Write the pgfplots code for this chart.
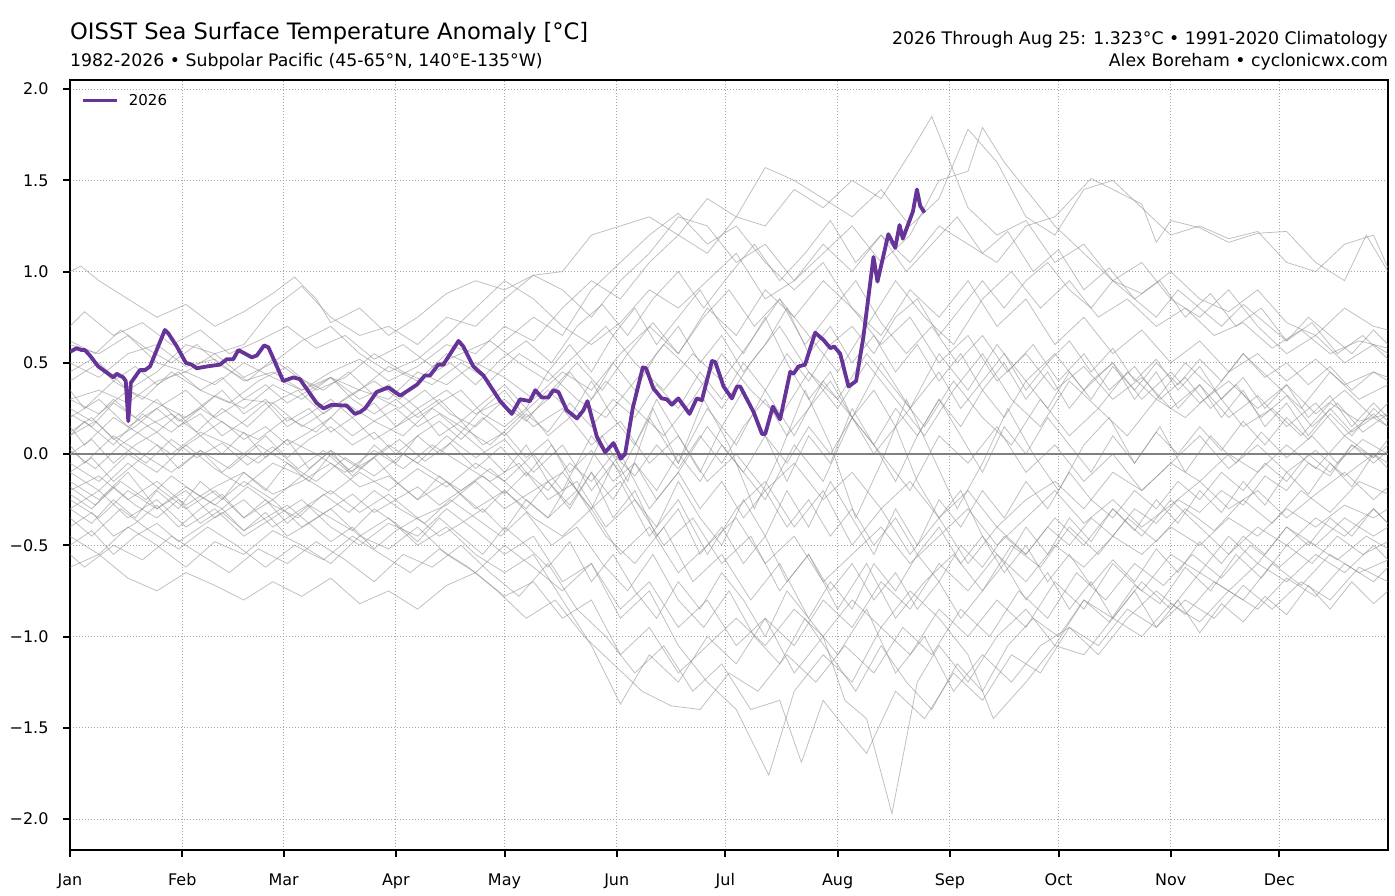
\documentclass[border=0pt]{standalone}
\usepackage{fontspec}
\setmainfont{DejaVu Sans}
\usepackage{pgfplots}
\pgfplotsset{compat=1.18}
\definecolor{purp}{RGB}{102,51,153}
\pgfplotsset{gry/.style={draw=black!45, line width=0.8pt, opacity=0.55, forget plot}}
\begin{document}
\begin{tikzpicture}
\begin{axis}[
  at={(0pt,0pt)}, anchor=south west,
  scale only axis, width=1318pt, height=770pt,
  xmin=0, xmax=364, ymin=-2.17, ymax=2.05,
  xtick={0,31,59,90,120,151,181,212,243,273,304,334},
  xticklabels={Jan,Feb,Mar,Apr,May,Jun,Jul,Aug,Sep,Oct,Nov,Dec},
  ytick={-2,-1.5,-1,-0.5,0,0.5,1,1.5,2},
  yticklabels={−2.0,−1.5,−1.0,−0.5,0.0,0.5,1.0,1.5,2.0},
  tick label style={font=\fontsize{16}{19}\selectfont},
  xticklabel style={yshift=-13pt},
  yticklabel style={xshift=-11pt},
  xtick pos=left, ytick pos=left,
  tick align=outside, major tick length=7pt,
  major tick style={black, line width=2pt},
  axis line style={black, line width=2.8pt},
  grid=major,
  major grid style={black!35, line width=0.8pt, dash pattern=on 1pt off 2pt},
  legend style={at={(0.006,0.987)}, anchor=north west, draw=none, fill=none,
    font=\fontsize{15}{18}\selectfont},
  legend image code/.code={\draw[#1] (0pt,0pt) -- (34pt,0pt);},
]
% ---- historical years (grey) ----
\addplot[gry] coordinates {(0,0.30)(8,0.35)(16,0.28)(24,0.40)(32,0.45)(40,0.38)(48,0.50)(56,0.42)(64,0.35)(72,0.45)(80,0.52)(88,0.40)(96,0.48)(104,0.60)(112,0.55)(120,0.70)(128,0.62)(136,0.80)(144,0.95)(152,0.85)(160,1.05)(168,1.20)(176,1.10)(184,1.30)(192,1.25)(200,1.45)(208,1.35)(216,1.50)(224,1.40)(232,1.65)(238,1.85)(244,1.55)(248,1.35)(256,1.20)(264,1.28)(272,1.05)(280,1.15)(288,0.95)(296,0.88)(304,1.00)(312,0.85)(320,0.78)(328,0.90)(336,0.72)(344,0.65)(352,0.80)(360,0.70)(364,0.68)};
\addplot[gry] coordinates {(0,1.00)(3,1.03)(8,0.95)(16,0.85)(24,0.75)(32,0.82)(40,0.70)(48,0.78)(56,0.88)(62,0.97)(68,0.85)(72,0.72)(80,0.80)(88,0.65)(96,0.75)(104,0.88)(112,0.95)(120,0.90)(128,0.98)(136,1.00)(144,1.20)(152,1.25)(160,1.30)(168,1.20)(176,1.40)(184,1.30)(192,1.57)(200,1.50)(208,1.40)(216,1.30)(224,1.45)(232,1.25)(240,1.40)(248,1.78)(256,1.60)(264,1.30)(272,1.20)(280,1.45)(288,1.50)(296,1.35)(304,1.20)(312,1.25)(320,1.18)(328,1.22)(336,1.05)(344,1.00)(352,1.15)(360,1.20)(364,1.02)};
\addplot[gry] coordinates {(0,0.60)(8,0.55)(16,0.65)(24,0.50)(32,0.45)(40,0.55)(48,0.60)(56,0.80)(64,0.92)(72,0.75)(80,0.65)(88,0.70)(96,0.60)(104,0.75)(112,0.70)(120,0.85)(128,0.98)(136,0.90)(144,0.75)(152,0.95)(160,1.10)(168,1.30)(176,1.25)(184,1.05)(192,1.15)(200,0.95)(208,1.10)(216,1.25)(224,1.05)(232,1.20)(240,1.50)(248,1.55)(252,1.79)(258,1.60)(264,1.45)(272,1.25)(280,1.10)(288,0.95)(296,1.05)(304,0.85)(312,0.75)(320,0.90)(328,0.70)(336,0.55)(344,0.65)(352,0.50)(360,0.60)(364,0.55)};
\addplot[gry] coordinates {(0,0.40)(8,0.50)(16,0.35)(24,0.45)(32,0.60)(40,0.55)(48,0.42)(56,0.50)(64,0.62)(72,0.70)(80,0.55)(88,0.45)(96,0.52)(104,0.65)(112,0.80)(120,0.95)(128,0.85)(136,0.70)(144,0.60)(152,0.72)(160,0.90)(168,0.80)(176,0.95)(184,1.10)(192,0.85)(200,0.95)(208,1.15)(216,1.00)(224,1.20)(232,1.05)(240,1.25)(248,1.15)(256,1.05)(264,1.25)(272,1.30)(282,1.51)(288,1.45)(296,1.37)(300,1.16)(304,1.28)(312,1.24)(320,1.16)(328,1.21)(336,1.22)(344,1.05)(352,0.95)(358,1.20)(364,1.00)};
\addplot[gry] coordinates {(0,0.20)(8,0.30)(16,0.15)(24,0.25)(32,0.35)(40,0.20)(48,0.30)(56,0.28)(64,0.15)(72,0.25)(80,0.35)(88,0.30)(96,0.45)(104,0.38)(112,0.50)(120,0.42)(128,0.30)(136,0.45)(144,0.35)(152,0.55)(160,0.70)(168,0.55)(176,0.80)(184,0.65)(192,0.90)(200,0.75)(208,0.95)(216,0.80)(224,0.65)(232,0.90)(240,0.75)(248,0.95)(256,0.70)(264,0.85)(272,0.60)(280,0.75)(288,0.55)(296,0.68)(304,0.50)(312,0.62)(320,0.45)(328,0.55)(336,0.40)(344,0.52)(352,0.38)(360,0.45)(364,0.42)};
\addplot[gry] coordinates {(0,0.10)(4,0.18)(12,0.05)(20,0.22)(28,0.12)(36,0.25)(44,0.15)(52,0.08)(60,0.20)(68,0.12)(76,0.28)(84,0.18)(92,0.10)(100,0.25)(108,0.15)(116,0.05)(124,0.20)(132,0.35)(140,0.20)(148,0.40)(156,0.25)(164,0.10)(172,0.30)(180,0.55)(188,0.35)(196,0.20)(204,0.45)(212,0.25)(220,0.50)(228,0.30)(236,0.10)(244,0.35)(252,0.55)(260,0.30)(268,0.15)(276,0.40)(284,0.25)(292,0.10)(300,0.30)(308,0.20)(316,0.35)(324,0.15)(332,0.25)(340,0.10)(348,0.28)(356,0.18)(364,0.22)};
\addplot[gry] coordinates {(0,-0.20)(8,-0.12)(16,-0.25)(24,-0.15)(32,-0.28)(40,-0.18)(48,-0.10)(56,-0.22)(64,-0.15)(72,-0.05)(80,-0.18)(88,-0.12)(96,-0.25)(104,-0.15)(112,-0.30)(120,-0.20)(128,-0.35)(136,-0.45)(144,-0.30)(152,-0.55)(160,-0.40)(168,-0.65)(176,-0.50)(184,-0.35)(192,-0.60)(200,-0.45)(208,-0.70)(216,-0.55)(224,-0.40)(232,-0.60)(240,-0.45)(248,-0.30)(256,-0.50)(264,-0.35)(272,-0.20)(280,-0.38)(288,-0.25)(296,-0.40)(304,-0.28)(312,-0.15)(320,-0.30)(328,-0.20)(336,-0.35)(344,-0.22)(352,-0.10)(360,-0.25)(364,-0.18)};
\addplot[gry] coordinates {(0,-0.45)(8,-0.55)(16,-0.40)(24,-0.50)(32,-0.62)(40,-0.48)(48,-0.55)(56,-0.42)(64,-0.50)(72,-0.60)(80,-0.45)(88,-0.52)(96,-0.40)(104,-0.55)(112,-0.65)(120,-0.50)(128,-0.62)(136,-0.75)(144,-0.60)(152,-0.85)(160,-0.70)(168,-0.95)(176,-0.80)(184,-1.05)(192,-0.90)(200,-1.20)(208,-1.00)(214,-1.35)(220,-1.45)(227,-1.97)(234,-1.25)(240,-1.05)(248,-1.25)(256,-1.00)(264,-0.85)(272,-1.05)(280,-0.80)(288,-0.90)(296,-0.70)(304,-0.85)(312,-0.65)(320,-0.75)(328,-0.60)(336,-0.70)(344,-0.55)(352,-0.65)(360,-0.50)(364,-0.58)};
\addplot[gry] coordinates {(0,-0.30)(8,-0.20)(16,-0.35)(24,-0.25)(32,-0.40)(40,-0.30)(48,-0.45)(56,-0.35)(64,-0.25)(72,-0.40)(80,-0.50)(88,-0.38)(96,-0.45)(104,-0.30)(112,-0.42)(120,-0.55)(128,-0.45)(136,-0.70)(144,-0.60)(152,-0.90)(160,-0.75)(168,-1.05)(176,-1.25)(184,-1.40)(193,-1.76)(200,-1.30)(208,-1.10)(216,-1.25)(224,-0.95)(232,-1.10)(240,-0.85)(248,-1.00)(256,-0.80)(264,-0.95)(272,-0.70)(280,-0.85)(288,-0.60)(296,-0.75)(304,-0.55)(312,-0.65)(320,-0.45)(328,-0.60)(336,-0.40)(344,-0.50)(352,-0.35)(360,-0.45)(364,-0.40)};
\addplot[gry] coordinates {(0,-0.55)(4,-0.62)(12,-0.50)(20,-0.58)(28,-0.45)(36,-0.55)(44,-0.65)(52,-0.52)(60,-0.60)(68,-0.48)(76,-0.58)(84,-0.70)(92,-0.55)(100,-0.62)(108,-0.50)(116,-0.65)(124,-0.78)(132,-0.60)(140,-0.85)(148,-1.00)(156,-1.20)(164,-1.05)(172,-1.30)(180,-1.15)(188,-1.40)(196,-1.35)(202,-1.69)(208,-1.35)(214,-1.50)(220,-1.64)(228,-1.30)(236,-1.45)(244,-1.20)(252,-1.35)(260,-1.10)(268,-1.20)(276,-0.95)(284,-1.05)(292,-0.85)(300,-0.95)(308,-0.80)(316,-0.90)(324,-0.72)(332,-0.85)(340,-0.70)(348,-0.80)(356,-0.62)(364,-0.70)};
\addplot[gry] coordinates {(0,-0.62)(8,-0.55)(16,-0.68)(24,-0.75)(32,-0.65)(40,-0.72)(48,-0.80)(56,-0.70)(64,-0.78)(72,-0.68)(80,-0.82)(88,-0.75)(96,-0.85)(104,-0.72)(112,-0.65)(120,-0.78)(128,-0.70)(136,-0.90)(144,-0.80)(152,-1.10)(160,-0.95)(168,-1.20)(176,-1.05)(184,-0.90)(192,-1.05)(200,-0.85)(208,-1.00)(216,-0.80)(224,-0.95)(232,-0.75)(240,-0.90)(248,-1.10)(255,-1.45)(264,-1.25)(272,-1.05)(280,-1.10)(288,-0.90)(296,-1.00)(304,-0.82)(312,-0.92)(320,-0.75)(328,-0.85)(336,-0.68)(344,-0.78)(352,-0.60)(360,-0.70)(364,-0.62)};
\addplot[gry] coordinates {(0,0.15)(4,0.05)(12,0.20)(20,0.10)(28,0.00)(36,0.12)(44,0.05)(52,-0.05)(60,0.08)(68,0.00)(76,-0.10)(84,0.02)(92,-0.08)(100,0.05)(108,-0.05)(116,-0.15)(124,-0.05)(132,-0.25)(140,-0.15)(148,-0.40)(156,-0.25)(164,-0.50)(172,-0.35)(180,-0.60)(188,-0.45)(196,-0.75)(204,-0.55)(212,-0.85)(220,-0.60)(228,-0.90)(236,-0.70)(244,-0.55)(252,-0.75)(260,-0.50)(268,-0.62)(276,-0.40)(284,-0.55)(292,-0.35)(300,-0.48)(308,-0.30)(316,-0.42)(324,-0.25)(332,-0.38)(340,-0.20)(348,-0.32)(356,-0.15)(364,-0.22)};
\addplot[gry] coordinates {(0,-0.05)(8,-0.15)(16,0.00)(24,-0.10)(32,0.05)(40,-0.08)(48,-0.18)(56,-0.05)(64,-0.12)(72,0.02)(80,-0.08)(88,0.05)(96,-0.05)(104,0.10)(112,-0.02)(120,0.08)(128,-0.10)(136,0.05)(144,-0.20)(152,0.00)(160,-0.30)(168,-0.10)(176,0.15)(184,-0.05)(192,-0.25)(200,0.05)(208,-0.15)(216,0.20)(224,0.00)(232,-0.20)(240,0.10)(248,-0.05)(256,0.15)(264,-0.10)(272,0.05)(280,-0.15)(288,0.00)(296,-0.20)(304,-0.05)(312,0.10)(320,-0.08)(328,0.05)(336,-0.10)(344,0.02)(352,-0.12)(360,0.00)(364,-0.05)};
\addplot[gry] coordinates {(0,0.70)(4,0.78)(12,0.65)(20,0.72)(28,0.60)(36,0.68)(44,0.55)(52,0.62)(60,0.70)(68,0.58)(76,0.65)(84,0.52)(92,0.60)(100,0.48)(108,0.55)(116,0.62)(124,0.50)(132,0.40)(140,0.55)(148,0.70)(156,0.50)(164,0.35)(172,0.55)(180,0.40)(188,0.62)(196,0.85)(204,0.65)(212,0.45)(220,0.70)(228,0.95)(236,0.75)(244,0.60)(252,0.85)(260,1.00)(268,0.80)(276,0.95)(284,0.75)(292,0.85)(300,0.70)(308,0.80)(316,0.65)(324,0.72)(332,0.58)(340,0.68)(348,0.55)(356,0.62)(364,0.58)};
\addplot[gry] coordinates {(0,-0.25)(8,-0.35)(16,-0.20)(24,-0.30)(32,-0.18)(40,-0.28)(48,-0.15)(56,-0.25)(64,-0.12)(72,-0.22)(80,-0.10)(88,-0.20)(96,-0.08)(104,-0.18)(112,-0.05)(120,-0.15)(128,0.00)(136,-0.20)(144,0.10)(152,-0.10)(160,0.20)(168,-0.05)(176,0.25)(184,0.05)(192,0.35)(200,0.10)(208,0.40)(216,0.20)(224,0.50)(232,0.25)(240,0.55)(248,0.35)(256,0.60)(264,0.40)(272,0.55)(280,0.35)(288,0.50)(296,0.30)(304,0.45)(312,0.28)(320,0.40)(328,0.25)(336,0.38)(344,0.22)(352,0.35)(360,0.20)(364,0.28)};
\addplot[gry] coordinates {(0,-0.10)(8,-0.20)(16,-0.05)(24,-0.18)(32,-0.30)(40,-0.20)(48,-0.35)(56,-0.25)(64,-0.40)(72,-0.30)(80,-0.45)(88,-0.35)(96,-0.50)(104,-0.40)(112,-0.55)(120,-0.65)(128,-0.55)(136,-0.80)(144,-1.05)(152,-1.37)(160,-1.10)(168,-1.25)(176,-1.00)(184,-1.15)(192,-0.90)(200,-1.05)(208,-0.80)(216,-0.95)(224,-0.70)(232,-0.85)(240,-0.60)(248,-0.75)(256,-0.55)(264,-0.70)(272,-0.50)(280,-0.62)(288,-0.45)(296,-0.55)(304,-0.40)(312,-0.50)(320,-0.35)(328,-0.45)(336,-0.30)(344,-0.40)(352,-0.28)(360,-0.35)(364,-0.30)};
\addplot[gry] coordinates {(0,-0.35)(6,-0.45)(14,-0.30)(22,-0.42)(30,-0.52)(38,-0.40)(46,-0.50)(54,-0.62)(62,-0.50)(70,-0.58)(78,-0.45)(86,-0.55)(94,-0.65)(102,-0.52)(110,-0.62)(118,-0.75)(126,-0.90)(134,-0.80)(142,-1.00)(150,-1.15)(158,-1.30)(166,-1.38)(174,-1.40)(182,-1.20)(190,-1.30)(198,-1.10)(206,-1.25)(214,-1.05)(222,-1.20)(230,-0.95)(238,-1.10)(246,-0.85)(254,-1.00)(262,-0.75)(270,-0.90)(278,-0.65)(286,-0.80)(294,-0.60)(302,-0.72)(310,-0.55)(318,-0.68)(326,-0.50)(334,-0.62)(342,-0.48)(350,-0.58)(358,-0.45)(364,-0.52)};
\addplot[gry] coordinates {(0,0.50)(8,0.42)(16,0.55)(24,0.60)(32,0.48)(40,0.52)(48,0.40)(56,0.45)(64,0.35)(72,0.42)(80,0.30)(88,0.38)(96,0.25)(104,0.35)(112,0.22)(120,0.30)(128,0.15)(136,0.25)(144,0.05)(152,0.18)(160,-0.05)(168,0.10)(176,-0.15)(184,0.00)(192,-0.20)(200,-0.05)(208,-0.25)(216,-0.10)(224,-0.30)(232,-0.15)(240,-0.35)(248,-0.20)(256,-0.40)(264,-0.25)(272,-0.15)(280,-0.30)(288,-0.10)(296,-0.20)(304,-0.05)(312,-0.15)(320,0.00)(328,-0.10)(336,0.05)(344,-0.08)(352,0.10)(360,-0.02)(364,0.05)};
\addplot[gry] coordinates {(0,0.05)(4,-0.05)(12,0.10)(20,0.00)(28,-0.10)(36,0.02)(44,-0.08)(52,0.05)(60,-0.05)(68,-0.15)(76,-0.02)(84,-0.12)(92,0.00)(100,-0.10)(108,-0.20)(116,-0.08)(124,-0.22)(132,-0.35)(140,-0.20)(148,-0.45)(156,-0.60)(164,-0.40)(172,-0.70)(180,-0.55)(188,-0.80)(196,-0.60)(204,-0.90)(212,-1.10)(220,-0.85)(228,-1.20)(236,-1.00)(244,-1.30)(252,-1.10)(260,-1.25)(268,-1.05)(276,-0.95)(284,-1.10)(292,-0.90)(300,-0.75)(308,-0.88)(316,-0.70)(324,-0.80)(332,-0.60)(340,-0.72)(348,-0.55)(356,-0.65)(364,-0.58)};
\addplot[gry] coordinates {(0,0.30)(8,0.22)(16,0.35)(24,0.28)(32,0.20)(40,0.32)(48,0.25)(56,0.38)(64,0.30)(72,0.42)(80,0.35)(88,0.48)(96,0.40)(104,0.55)(112,0.48)(120,0.62)(128,0.75)(136,0.65)(144,0.90)(152,1.05)(160,1.20)(168,1.32)(176,1.15)(184,1.25)(192,1.05)(200,0.90)(208,1.05)(216,0.80)(224,0.60)(232,0.75)(240,0.50)(248,0.65)(256,0.40)(264,0.55)(272,0.35)(280,0.48)(288,0.30)(296,0.42)(304,0.25)(312,0.38)(320,0.20)(328,0.32)(336,0.15)(344,0.28)(352,0.10)(360,0.22)(364,0.15)};
\addplot[gry] coordinates {(0,0.35)(4,0.25)(12,0.40)(20,0.30)(28,0.45)(36,0.35)(44,0.28)(52,0.40)(60,0.48)(68,0.35)(76,0.42)(84,0.55)(92,0.45)(100,0.38)(108,0.50)(116,0.40)(124,0.55)(132,0.45)(140,0.30)(148,0.20)(156,0.40)(164,0.60)(172,0.45)(180,0.25)(188,0.50)(196,0.70)(204,0.45)(212,0.30)(220,0.55)(228,0.35)(236,0.15)(244,0.40)(252,0.20)(260,0.05)(268,0.30)(276,0.10)(284,0.25)(292,0.45)(300,0.30)(308,0.50)(316,0.35)(324,0.55)(332,0.40)(340,0.25)(348,0.45)(356,0.30)(364,0.38)};
\addplot[gry] coordinates {(0,-0.15)(8,-0.25)(16,-0.10)(24,-0.30)(32,-0.20)(40,-0.35)(48,-0.25)(56,-0.40)(64,-0.30)(72,-0.20)(80,-0.32)(88,-0.22)(96,-0.35)(104,-0.28)(112,-0.15)(120,-0.30)(128,-0.20)(136,-0.10)(144,-0.30)(152,-0.15)(160,-0.45)(168,-0.25)(176,-0.55)(184,-0.30)(192,-0.15)(200,-0.40)(208,-0.20)(216,-0.50)(224,-0.30)(232,-0.55)(240,-0.35)(248,-0.60)(256,-0.40)(264,-0.55)(272,-0.35)(280,-0.50)(288,-0.30)(296,-0.45)(304,-0.25)(312,-0.40)(320,-0.55)(328,-0.40)(336,-0.50)(344,-0.35)(352,-0.45)(360,-0.30)(364,-0.38)};
\addplot[gry] coordinates {(0,0.00)(6,0.08)(12,-0.05)(18,0.05)(24,0.12)(30,0.02)(36,0.10)(42,0.18)(48,0.08)(54,0.15)(60,0.05)(66,0.12)(72,0.20)(78,0.10)(84,0.18)(90,0.25)(96,0.15)(102,0.22)(108,0.12)(114,0.25)(120,0.35)(126,0.20)(132,0.30)(138,0.45)(144,0.30)(150,0.50)(156,0.35)(162,0.55)(168,0.70)(174,0.50)(180,0.65)(186,0.45)(192,0.60)(198,0.80)(204,0.55)(210,0.70)(216,0.50)(222,0.65)(228,0.45)(234,0.60)(240,0.40)(246,0.55)(252,0.35)(258,0.50)(264,0.30)(270,0.45)(276,0.25)(282,0.40)(288,0.50)(294,0.30)(300,0.45)(306,0.25)(312,0.38)(318,0.20)(324,0.35)(330,0.15)(336,0.28)(342,0.10)(348,0.25)(354,0.12)(360,0.20)(364,0.15)};
\addplot[gry] coordinates {(0,-0.40)(6,-0.32)(12,-0.45)(18,-0.38)(24,-0.28)(30,-0.40)(36,-0.30)(42,-0.22)(48,-0.35)(54,-0.25)(60,-0.38)(66,-0.28)(72,-0.35)(78,-0.42)(84,-0.30)(90,-0.38)(96,-0.48)(102,-0.35)(108,-0.45)(114,-0.55)(120,-0.40)(126,-0.50)(132,-0.62)(138,-0.48)(144,-0.70)(150,-0.55)(156,-0.75)(162,-0.90)(168,-0.70)(174,-0.85)(180,-0.65)(186,-0.80)(192,-1.00)(198,-0.75)(204,-0.90)(210,-0.70)(216,-0.85)(222,-0.60)(228,-0.75)(234,-0.55)(240,-0.70)(246,-0.50)(252,-0.62)(258,-0.45)(264,-0.55)(270,-0.40)(276,-0.50)(282,-0.35)(288,-0.45)(294,-0.30)(300,-0.38)(306,-0.25)(312,-0.32)(318,-0.20)(324,-0.28)(330,-0.12)(336,-0.20)(342,-0.05)(348,-0.12)(354,0.05)(360,-0.02)(364,0.08)};
\addplot[gry] coordinates {(0,0.22)(6,0.15)(12,0.28)(18,0.20)(24,0.30)(30,0.18)(36,0.25)(42,0.35)(48,0.22)(54,0.30)(60,0.18)(66,0.25)(72,0.12)(78,0.20)(84,0.08)(90,0.15)(96,0.25)(102,0.10)(108,0.18)(114,0.05)(120,0.12)(126,-0.02)(132,0.08)(138,-0.10)(144,0.02)(150,-0.15)(156,-0.05)(162,-0.25)(168,-0.10)(174,-0.30)(180,-0.15)(186,-0.35)(192,-0.20)(198,-0.40)(204,-0.25)(210,-0.45)(216,-0.30)(222,-0.50)(228,-0.35)(234,-0.55)(240,-0.40)(246,-0.60)(252,-0.45)(258,-0.65)(264,-0.50)(270,-0.70)(276,-0.55)(282,-0.72)(288,-0.58)(294,-0.70)(300,-0.52)(306,-0.65)(312,-0.48)(318,-0.60)(324,-0.45)(330,-0.55)(336,-0.40)(342,-0.50)(348,-0.35)(354,-0.45)(360,-0.30)(364,-0.38)};
\addplot[gry] coordinates {(0,0.45)(6,0.52)(12,0.40)(18,0.48)(24,0.38)(30,0.45)(36,0.35)(42,0.42)(48,0.30)(54,0.38)(60,0.28)(66,0.35)(72,0.42)(78,0.30)(84,0.22)(90,0.30)(96,0.20)(102,0.28)(108,0.35)(114,0.22)(120,0.15)(126,0.25)(132,0.10)(138,0.20)(144,0.40)(150,0.20)(156,0.05)(162,0.30)(168,0.10)(174,-0.10)(180,0.15)(186,0.35)(192,0.10)(198,-0.15)(204,0.10)(210,-0.05)(216,0.25)(222,0.05)(228,-0.15)(234,0.10)(240,0.30)(246,0.10)(252,-0.10)(258,0.15)(264,0.00)(270,0.20)(276,0.05)(282,-0.10)(288,0.10)(294,-0.05)(300,0.12)(306,0.00)(312,0.15)(318,0.02)(324,0.18)(330,0.05)(336,0.20)(342,0.08)(348,0.22)(354,0.10)(360,0.25)(364,0.18)};
\addplot[gry] coordinates {(0,-0.10)(6,-0.02)(12,-0.15)(18,-0.05)(24,0.05)(30,-0.08)(36,0.02)(42,-0.10)(48,0.00)(54,0.10)(60,-0.02)(66,0.08)(72,0.15)(78,0.05)(84,0.12)(90,0.00)(96,0.10)(102,0.18)(108,0.08)(114,0.20)(120,0.10)(126,0.22)(132,0.12)(138,0.28)(144,0.15)(150,0.30)(156,0.20)(162,0.38)(168,0.25)(174,0.45)(180,0.30)(186,0.50)(192,0.35)(198,0.55)(204,0.40)(210,0.60)(216,0.70)(222,0.55)(228,0.75)(234,0.85)(240,0.65)(246,0.80)(252,0.95)(258,0.80)(264,0.95)(270,1.05)(276,0.90)(282,0.80)(288,0.95)(294,0.85)(300,0.75)(306,0.90)(312,0.80)(318,0.70)(324,0.82)(330,0.72)(336,0.62)(342,0.75)(348,0.65)(354,0.55)(360,0.68)(364,0.60)};
\addplot[gry] coordinates {(0,-0.22)(6,-0.30)(12,-0.18)(18,-0.28)(24,-0.35)(30,-0.25)(36,-0.38)(42,-0.30)(48,-0.42)(54,-0.32)(60,-0.45)(66,-0.38)(72,-0.48)(78,-0.40)(84,-0.52)(90,-0.42)(96,-0.35)(102,-0.45)(108,-0.38)(114,-0.30)(120,-0.42)(126,-0.25)(132,-0.35)(138,-0.15)(144,-0.30)(150,-0.05)(156,-0.25)(162,-0.40)(168,-0.15)(174,-0.35)(180,-0.50)(186,-0.25)(192,-0.45)(198,-0.20)(204,-0.40)(210,-0.15)(216,-0.35)(222,-0.55)(228,-0.30)(234,-0.50)(240,-0.25)(246,-0.40)(252,-0.20)(258,-0.35)(264,-0.15)(270,-0.30)(276,-0.10)(282,-0.25)(288,-0.35)(294,-0.20)(300,-0.30)(306,-0.15)(312,-0.25)(318,-0.10)(324,-0.20)(330,-0.05)(336,-0.15)(342,0.00)(348,-0.10)(354,0.05)(360,-0.05)(364,0.02)};
\addplot[gry] coordinates {(0,0.12)(6,0.20)(12,0.08)(18,0.15)(24,0.25)(30,0.15)(36,0.22)(42,0.10)(48,0.18)(54,0.28)(60,0.15)(66,0.22)(72,0.30)(78,0.20)(84,0.28)(90,0.15)(96,0.22)(102,0.30)(108,0.18)(114,0.28)(120,0.38)(126,0.25)(132,0.45)(138,0.60)(144,0.45)(150,0.65)(156,0.80)(162,0.60)(168,0.75)(174,0.90)(180,0.70)(186,0.55)(192,0.75)(198,0.50)(204,0.30)(210,0.45)(216,0.20)(222,0.00)(228,0.15)(234,-0.15)(240,-0.35)(246,-0.20)(252,-0.45)(258,-0.60)(264,-0.40)(270,-0.55)(276,-0.35)(282,-0.48)(288,-0.30)(294,-0.42)(300,-0.25)(306,-0.38)(312,-0.20)(318,-0.32)(324,-0.15)(330,-0.28)(336,-0.10)(342,-0.22)(348,-0.05)(354,-0.18)(360,0.00)(364,-0.08)};
\addplot[gry] coordinates {(0,-0.50)(6,-0.42)(12,-0.55)(18,-0.45)(24,-0.38)(30,-0.48)(36,-0.40)(42,-0.32)(48,-0.42)(54,-0.35)(60,-0.28)(66,-0.38)(72,-0.30)(78,-0.22)(84,-0.32)(90,-0.25)(96,-0.18)(102,-0.28)(108,-0.20)(114,-0.12)(120,-0.22)(126,-0.10)(132,-0.20)(138,-0.05)(144,-0.15)(150,0.00)(156,-0.12)(162,0.05)(168,-0.08)(174,0.10)(180,-0.05)(186,0.15)(192,0.30)(198,0.10)(204,0.25)(210,0.40)(216,0.20)(222,0.35)(228,0.15)(234,0.30)(240,0.45)(246,0.25)(252,0.40)(258,0.55)(264,0.35)(270,0.50)(276,0.62)(282,0.45)(288,0.58)(294,0.40)(300,0.52)(306,0.35)(312,0.48)(318,0.30)(324,0.42)(330,0.25)(336,0.38)(342,0.20)(348,0.32)(354,0.15)(360,0.28)(364,0.20)};
\addplot[gry] coordinates {(0,-0.30)(6,-0.38)(12,-0.25)(18,-0.35)(24,-0.20)(30,-0.30)(36,-0.15)(42,-0.25)(48,-0.10)(54,-0.20)(60,-0.05)(66,-0.15)(72,0.00)(78,-0.10)(84,0.05)(90,-0.05)(96,0.10)(102,0.00)(108,0.12)(114,0.02)(120,-0.10)(126,0.05)(132,-0.15)(138,-0.30)(144,-0.10)(150,-0.35)(156,-0.20)(162,-0.45)(168,-0.30)(174,-0.55)(180,-0.40)(186,-0.60)(192,-0.45)(198,-0.70)(204,-0.55)(210,-0.75)(216,-0.60)(222,-0.80)(228,-0.65)(234,-0.85)(240,-0.70)(246,-0.90)(252,-0.75)(258,-0.60)(264,-0.80)(270,-0.65)(276,-0.85)(282,-0.70)(288,-0.90)(294,-0.75)(300,-0.95)(306,-0.80)(312,-0.98)(318,-0.82)(324,-0.92)(330,-0.78)(336,-0.88)(342,-0.72)(348,-0.85)(354,-0.70)(360,-0.82)(364,-0.75)};
\addplot[gry] coordinates {(0,0.25)(6,0.18)(12,0.30)(18,0.20)(24,0.12)(30,0.22)(36,0.10)(42,0.00)(48,0.12)(54,-0.02)(60,0.08)(66,-0.08)(72,0.02)(78,-0.12)(84,-0.02)(90,-0.15)(96,-0.25)(102,-0.12)(108,-0.22)(114,-0.32)(120,-0.20)(126,-0.30)(132,-0.15)(138,-0.28)(144,-0.10)(150,-0.25)(156,-0.05)(162,-0.20)(168,0.00)(174,-0.15)(180,0.05)(186,-0.10)(192,0.10)(198,-0.05)(204,0.15)(210,0.00)(216,0.20)(222,0.05)(228,0.25)(234,0.10)(240,0.30)(246,0.15)(252,0.35)(258,0.20)(264,0.40)(270,0.25)(276,0.45)(282,0.30)(288,0.48)(294,0.35)(300,0.50)(306,0.38)(312,0.52)(318,0.40)(324,0.55)(330,0.42)(336,0.50)(342,0.38)(348,0.48)(354,0.35)(360,0.45)(364,0.40)};
\addplot[gry] coordinates {(0,0.10)(7,0.18)(14,0.05)(21,0.15)(28,0.22)(35,0.12)(42,0.25)(49,0.15)(56,0.28)(63,0.35)(70,0.22)(77,0.32)(84,0.40)(91,0.30)(98,0.42)(105,0.50)(112,0.38)(119,0.52)(126,0.62)(133,0.50)(140,0.70)(147,0.82)(154,0.65)(161,0.85)(168,1.00)(175,0.80)(182,0.98)(189,1.15)(196,0.95)(203,1.10)(210,1.28)(217,1.05)(224,1.20)(231,1.00)(238,1.15)(245,1.30)(252,1.10)(259,1.22)(266,1.00)(273,1.12)(280,0.90)(287,1.02)(294,0.85)(301,0.95)(308,0.75)(315,0.88)(322,0.70)(329,0.80)(336,0.62)(343,0.72)(350,0.55)(357,0.65)(364,0.52)};
\addplot[gry] coordinates {(0,0.62)(7,0.55)(14,0.68)(21,0.58)(28,0.50)(35,0.60)(42,0.48)(49,0.40)(56,0.52)(63,0.42)(70,0.35)(77,0.45)(84,0.32)(91,0.25)(98,0.35)(105,0.22)(112,0.15)(119,0.28)(126,0.18)(133,0.35)(140,0.50)(147,0.35)(154,0.55)(161,0.72)(168,0.55)(175,0.75)(182,0.90)(189,0.70)(196,0.85)(203,0.60)(210,0.78)(217,0.95)(224,0.72)(231,0.55)(238,0.70)(245,0.50)(252,0.65)(259,0.45)(266,0.60)(273,0.40)(280,0.55)(287,0.35)(294,0.48)(301,0.30)(308,0.42)(315,0.25)(322,0.38)(329,0.20)(336,0.32)(343,0.15)(350,0.28)(357,0.12)(364,0.22)};
\addplot[gry] coordinates {(0,-0.18)(7,-0.28)(14,-0.15)(21,-0.25)(28,-0.12)(35,-0.22)(42,-0.30)(49,-0.18)(56,-0.28)(63,-0.35)(70,-0.22)(77,-0.32)(84,-0.20)(91,-0.30)(98,-0.38)(105,-0.25)(112,-0.35)(119,-0.45)(126,-0.32)(133,-0.50)(140,-0.40)(147,-0.60)(154,-0.75)(161,-0.55)(168,-0.80)(175,-0.95)(182,-0.75)(189,-1.00)(196,-1.15)(203,-0.90)(210,-1.10)(217,-1.30)(224,-1.05)(231,-1.25)(238,-1.40)(245,-1.15)(252,-1.30)(259,-1.05)(266,-0.90)(273,-1.00)(280,-0.80)(287,-0.92)(294,-0.72)(301,-0.82)(308,-0.62)(315,-0.75)(322,-0.55)(329,-0.68)(336,-0.50)(343,-0.60)(350,-0.45)(357,-0.55)(364,-0.48)};
\addplot[gry] coordinates {(0,0.02)(7,-0.08)(14,0.05)(21,-0.05)(28,0.08)(35,-0.02)(42,0.06)(49,-0.06)(56,0.04)(63,-0.08)(70,0.02)(77,-0.10)(84,-0.02)(91,0.08)(98,-0.04)(105,0.06)(112,-0.08)(119,0.04)(126,-0.12)(133,0.05)(140,-0.20)(147,0.10)(154,-0.15)(161,0.25)(168,-0.05)(175,0.30)(182,0.05)(189,-0.30)(196,0.00)(203,0.35)(210,0.05)(217,-0.35)(224,-0.05)(231,0.30)(238,0.00)(245,-0.30)(252,-0.05)(259,0.25)(266,0.00)(273,-0.20)(280,0.05)(287,0.20)(294,-0.05)(301,0.15)(308,-0.10)(315,0.10)(322,-0.05)(329,0.12)(336,-0.02)(343,0.10)(350,-0.05)(357,0.08)(364,0.00)};
% ---- zero line ----
\addplot[black!50, line width=1.5pt, forget plot] coordinates {(0,0)(364,0)};
% ---- 2026 ----
\addplot[purp, line width=3.8pt, line join=round] coordinates {(0,0.56)(1.8,0.58)(3.2,0.57)(4.1,0.57)(5.5,0.54)(7.8,0.48)(9.2,0.46)(12,0.42)(12.9,0.44)(14.7,0.42)(15.4,0.40)(16.1,0.18)(16.8,0.39)(19.3,0.46)(20.7,0.46)(22.1,0.48)(26.2,0.68)(27.2,0.66)(29.5,0.59)(32,0.50)(33.6,0.49)(35,0.47)(37.8,0.48)(41.4,0.49)(43.3,0.52)(45.1,0.52)(46.5,0.57)(47.9,0.555)(50.2,0.53)(51.6,0.54)(53.6,0.595)(54.8,0.585)(58.9,0.40)(61.7,0.42)(63.5,0.41)(68.1,0.28)(70,0.25)(72.3,0.27)(76.4,0.265)(78.7,0.22)(80.1,0.23)(81.5,0.25)(84.7,0.34)(87.9,0.365)(91.2,0.32)(95.8,0.38)(98,0.43)(99.4,0.43)(101.7,0.49)(103.1,0.49)(107.3,0.62)(108.6,0.59)(111.4,0.48)(114.2,0.43)(118.8,0.29)(122,0.22)(124.3,0.30)(127,0.29)(128.5,0.35)(130.3,0.31)(132.1,0.31)(133.5,0.35)(134.9,0.34)(137.2,0.24)(140,0.195)(141.8,0.24)(142.9,0.29)(145.5,0.095)(147.8,0.01)(150.1,0.06)(152.1,-0.025)(153.3,0.00)(155.4,0.25)(158.2,0.475)(159.1,0.47)(161.1,0.36)(163.4,0.305)(164.8,0.30)(166.2,0.27)(168,0.305)(171.1,0.22)(173.1,0.305)(174.5,0.295)(177.3,0.51)(178.2,0.505)(180.5,0.37)(182.8,0.305)(184.2,0.37)(185.1,0.37)(188.8,0.23)(191.1,0.11)(192,0.11)(194.1,0.26)(196.1,0.19)(198.9,0.45)(199.8,0.44)(201.2,0.48)(203,0.49)(205.8,0.665)(208.1,0.625)(210,0.58)(211,0.59)(212.7,0.55)(215,0.37)(217.1,0.40)(219.1,0.64)(221.9,1.08)(223,0.945)(226,1.205)(227.9,1.13)(229.1,1.255)(230,1.18)(232.8,1.33)(233.9,1.45)(234.8,1.36)(236,1.323)};
\addlegendentry{\hspace{8pt}2026}
\end{axis}
\node[anchor=base west, inner sep=0pt, font=\fontsize{22.6}{26}\selectfont] at (0pt,810pt) {OISST Sea Surface Temperature Anomaly [°C]};
\node[anchor=base west, inner sep=0pt, font=\fontsize{17.3}{20}\selectfont] at (0pt,783pt) {1982-2026 • Subpolar Pacific (45-65°N, 140°E-135°W)};
\node[anchor=base east, inner sep=0pt, font=\fontsize{17.3}{20}\selectfont] at (1318pt,805pt) {2026 Through Aug 25: 1.323°C • 1991-2020 Climatology};
\node[anchor=base east, inner sep=0pt, font=\fontsize{17.3}{20}\selectfont] at (1318pt,783pt) {Alex Boreham • cyclonicwx.com};
\pgfresetboundingbox
\path (-70pt,-46pt) rectangle (1325pt,850pt);
\end{tikzpicture}
\end{document}
